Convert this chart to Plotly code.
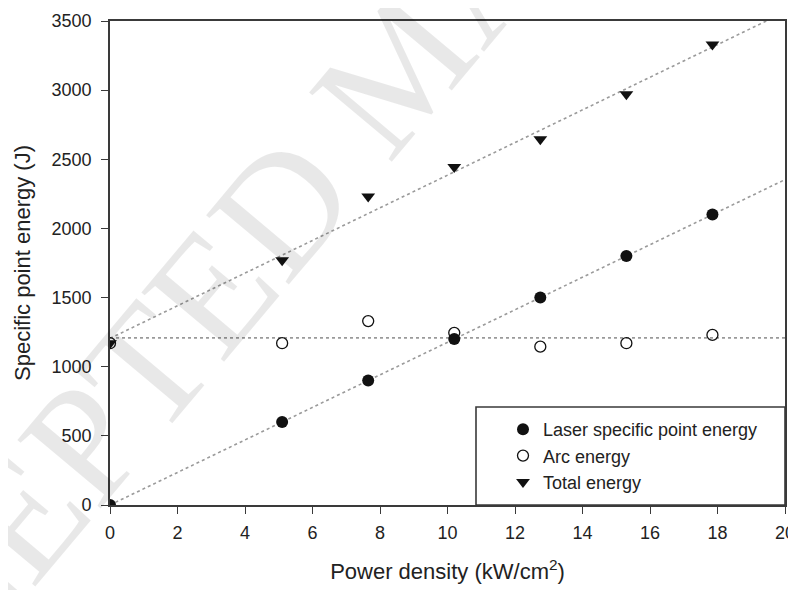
import numpy as np
import plotly.graph_objects as go

power_density = [0, 5.1, 7.65, 10.2, 12.75, 15.3, 17.85]
laser_energy = [0, 600, 900, 1200, 1500, 1800, 2100]
arc_energy = [1170, 1170, 1330, 1245, 1145, 1170, 1230]
total_energy = [1170, 1770, 2230, 2445, 2645, 2970, 3330]

x_ticks = [0, 2, 4, 6, 8, 10, 12, 14, 16, 18, 20]
y_ticks = [0, 500, 1000, 1500, 2000, 2500, 3000, 3500]

fit_x = np.array([0, 20])

def fit(xs, ys, deg=1):
    c = np.polyfit(xs, ys, deg)
    return np.polyval(c, fit_x)

laser_fit = fit(power_density, laser_energy)
arc_fit = np.full(2, np.mean(arc_energy))
total_fit = fit(power_density, total_energy)

FONT = "Liberation Sans, Arial, sans-serif"
TXT = "#222222"
AX = "#3a3a3a"
LINE = "#9a9a9a"

# page body has an 8px margin: figure drawn at (8, 8)
OFF = 8
PL, PR, PT, PB = 110, 785, 21, 505   # target plot box in window pixels
W, H = 796 - OFF, 590 - OFF

def px(xp):
    return (xp - PL) / (PR - PL)

def py(yp):
    return (PB - yp) / (PB - PT)

fig = go.Figure()

for yy in (laser_fit, arc_fit, total_fit):
    fig.add_trace(go.Scatter(x=fit_x, y=yy, mode="lines", showlegend=False,
                             line=dict(color=LINE, width=1.6, dash="dot"),
                             hoverinfo="skip"))

fig.add_trace(go.Scatter(x=power_density, y=laser_energy, mode="markers",
                         name="Laser specific point energy",
                         marker=dict(symbol="circle", size=12, color="#111111")))
fig.add_trace(go.Scatter(x=power_density, y=arc_energy, mode="markers",
                         name="Arc energy",
                         marker=dict(symbol="circle-open", size=11, color="#111111",
                                     line=dict(width=1.3, color="#111111"))))
fig.add_trace(go.Scatter(x=power_density, y=total_energy, mode="markers",
                         name="Total energy",
                         marker=dict(symbol="triangle-down", size=12, color="#111111")))

fig.update_layout(
    width=W, height=H,
    margin=dict(l=PL - OFF, r=OFF + W - PR, t=PT - OFF, b=OFF + H - PB),
    paper_bgcolor="white", plot_bgcolor="white",
    font=dict(family=FONT, size=18, color=TXT),
    showlegend=True,
    legend=dict(x=px(543 - 40), y=py(456),
                xanchor="left", yanchor="middle",
                bgcolor="rgba(0,0,0,0)", borderwidth=0,
                font=dict(family=FONT, size=18, color=TXT),
                traceorder="normal", itemwidth=30, tracegroupgap=0),
    xaxis=dict(range=[0, 20], tickvals=x_ticks, ticks="outside", ticklen=7,
               tickwidth=1.3, tickcolor=AX, showline=True, linecolor=AX,
               linewidth=1.6, mirror=True, showgrid=False, zeroline=False,
               automargin=False, fixedrange=True,
               tickfont=dict(size=18, color=TXT), ticklabelstandoff=4,
               title=dict(text="Power density (kW/cm<sup>2</sup>)",
                          font=dict(size=22, color=TXT), standoff=21)),
    yaxis=dict(range=[0, 3500], tickvals=y_ticks, ticks="outside", ticklen=7,
               tickwidth=1.3, tickcolor=AX, showline=True, linecolor=AX,
               linewidth=1.6, mirror=True, showgrid=False, zeroline=False,
               automargin=False, fixedrange=True,
               tickfont=dict(size=18, color=TXT), ticklabelstandoff=6,
               title=dict(text="Specific point energy (J)",
                          font=dict(size=22, color=TXT), standoff=15)),
)

# legend box
fig.add_shape(type="rect", xref="paper", yref="paper",
              x0=px(476), x1=1.0, y0=0.0, y1=py(407),
              line=dict(color=AX, width=1.6), fillcolor="rgba(0,0,0,0)",
              layer="above")

# watermark
fig.add_annotation(text="ACCEPTED MANUSCRIPT", xref="paper", yref="paper",
                   x=px(400), y=py(65),
                   xanchor="center", yanchor="middle", showarrow=False,
                   textangle=-50,
                   font=dict(family="Liberation Serif, Times New Roman, serif",
                             size=165, color="rgba(0,0,0,0.09)"))

fig.write_html("out.html")
